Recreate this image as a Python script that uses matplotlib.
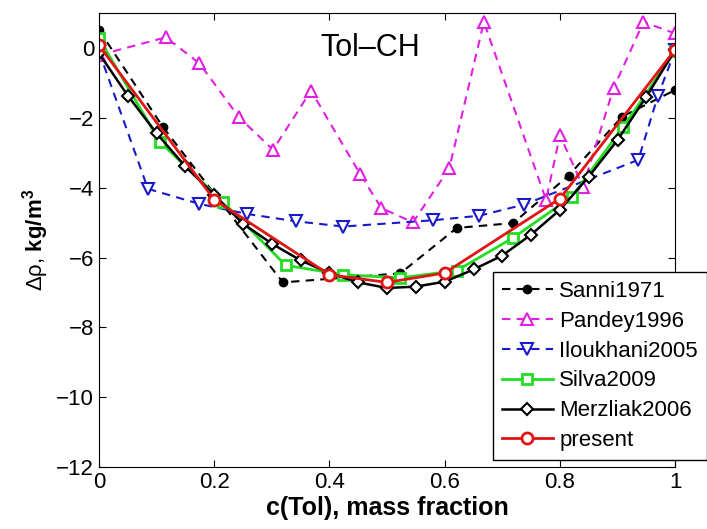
import matplotlib
matplotlib.use("Agg")
import matplotlib.pyplot as plt
from matplotlib.ticker import FuncFormatter

plt.rcParams['font.family'] = ['Liberation Sans', 'DejaVu Sans']
plt.rcParams['mathtext.fontset'] = 'custom'
plt.rcParams['mathtext.rm'] = 'Liberation Sans'
plt.rcParams['mathtext.it'] = 'Liberation Sans:italic'
plt.rcParams['mathtext.bf'] = 'Liberation Sans:bold'

# data
sanni_x = [0.0, 0.111, 0.319, 0.523, 0.621, 0.719, 0.815, 0.908, 1.0]
sanni_y = [0.52, -2.26, -6.71, -6.45, -5.15, -5.01, -3.65, -1.96, -1.2]

pandey_x = [0.0, 0.116, 0.174, 0.243, 0.302, 0.368, 0.453, 0.49, 0.545, 0.608,
            0.668, 0.776, 0.8, 0.84, 0.893, 0.945, 1.0]
pandey_y = [-0.2, 0.31, -0.43, -1.98, -2.91, -1.22, -3.6, -4.58, -4.99, -3.44,
            0.75, -4.35, -2.49, -3.97, -1.15, 0.75, 0.42]

ilou_x = [0.0, 0.085, 0.174, 0.257, 0.342, 0.424, 0.58, 0.66, 0.738, 0.936, 0.97, 1.0]
ilou_y = [-0.1, -4.03, -4.46, -4.75, -4.96, -5.11, -4.93, -4.8, -4.48, -3.2, -1.37, -0.06]

silva_x = [0.0, 0.106, 0.215, 0.324, 0.424, 0.523, 0.621, 0.719, 0.821, 0.91, 1.0]
silva_y = [0.28, -2.69, -4.4, -6.22, -6.49, -6.58, -6.37, -5.43, -4.25, -2.25, -0.08]

merz_x = [0.0, 0.05, 0.1, 0.15, 0.2, 0.25, 0.3, 0.35, 0.4, 0.45, 0.5, 0.55,
          0.6, 0.65, 0.7, 0.75, 0.8, 0.85, 0.9, 0.95, 1.0]
merz_y = [-0.15, -1.36, -2.44, -3.39, -4.2, -5.03, -5.6, -6.08, -6.44, -6.71, -6.87, -6.83,
          -6.69, -6.34, -5.94, -5.34, -4.63, -3.68, -2.63, -1.39, -0.05]

pres_x = [0.0, 0.2, 0.4, 0.5, 0.6, 0.8, 1.0]
pres_y = [0.08, -4.34, -6.49, -6.71, -6.44, -4.31, -0.04]

fig = plt.figure(figsize=(7.07, 5.29), dpi=100)
ax = fig.add_axes([0.140, 0.117, 0.815, 0.858])

dash = (4, 3)
ax.plot(sanni_x, sanni_y, color='k', linestyle='--', dashes=dash, lw=1.5,
        marker='o', ms=6, mfc='k', label='Sanni1971')
ax.plot(pandey_x, pandey_y, color='#e020e0', linestyle='--', dashes=dash, lw=1.5,
        marker='^', ms=8, mfc='white', mew=1.5, label='Pandey1996')
ax.plot(ilou_x, ilou_y, color='#1a1ac8', linestyle='--', dashes=dash, lw=1.5,
        marker='v', ms=8, mfc='white', mew=1.5, label='Iloukhani2005')
ax.plot(silva_x, silva_y, color='#22dd22', lw=2, marker='s', ms=7,
        mfc='white', mec='#22dd22', mew=2, label='Silva2009')
ax.plot(merz_x, merz_y, color='k', lw=1.8, marker='D', ms=6.5,
        mfc='white', mew=1.5, label='Merzliak2006')
ax.plot(pres_x, pres_y, color='#e01515', lw=2, marker='o', ms=8,
        mfc='white', mew=2, label='present')

ax.set_xlim(0, 1)
ax.set_ylim(-12, 1)
ax.set_xticks([0, 0.2, 0.4, 0.6, 0.8, 1])
ax.set_yticks([-12, -10, -8, -6, -4, -2, 0])
ax.xaxis.set_major_formatter(FuncFormatter(lambda v, p: '%g' % v))
ax.tick_params(direction='in', top=True, right=True, labelsize=16, length=5)

ax.text(0.47, 0.0, 'Tol\u2013CH', fontsize=22, ha='center', va='center')

ax.set_xlabel('c(Tol), mass fraction', fontsize=18, fontweight='bold', labelpad=2)
ax.set_ylabel(r'$\mathregular{\Delta\rho}$, $\mathbf{kg/m^3}$', fontsize=16, labelpad=4)

leg = ax.legend(loc='upper left', bbox_to_anchor=(0.697, 0.486),
                bbox_transform=fig.transFigure, fontsize=16, frameon=True,
                fancybox=False, framealpha=1, edgecolor='k', borderaxespad=0,
                handlelength=2.3, labelspacing=0.4, handletextpad=0.3,
                borderpad=0.4)
leg.get_frame().set_linewidth(1)

fig.savefig('out.png', dpi=100)
